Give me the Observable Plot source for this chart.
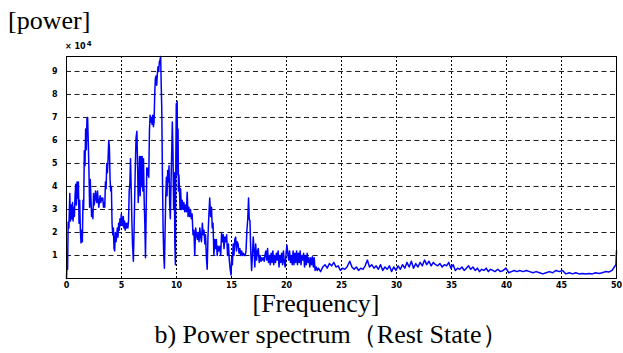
<!DOCTYPE html>
<html><head><meta charset="utf-8">
<script src="https://cdn.jsdelivr.net/npm/d3@7"></script>
<script src="https://cdn.jsdelivr.net/npm/@observablehq/plot@0.6"></script>
<style>
html,body{margin:0;padding:0;background:#fff;}
#wrap{position:relative;width:623px;height:353px;overflow:hidden;background:#fff;}
#wrap svg{position:absolute;left:0;top:0;}
.t{position:absolute;font-family:"Liberation Serif","Times New Roman",serif;font-size:26px;white-space:nowrap;line-height:1;color:#000;}
.note{position:absolute;font-family:"DejaVu Sans",sans-serif;font-size:8px;font-weight:bold;line-height:1;white-space:nowrap;color:#000;}
.note sup{font-size:7px;position:relative;top:-3px;vertical-align:baseline;margin-left:1px;}
</style></head><body><div id="wrap"></div>
<script>
// [frequency (Hz), power (x10^4)]
const band0to5 = [[0,0],[0.04,0.55],[0.1,0.4],[0.15,2.45],[0.22,2.2],[0.3,3.7],[0.36,2.5],[0.42,3.2],[0.48,2.6],[0.55,3.3],[0.6,2.5],[0.66,3.1],[0.72,2.7],[0.78,3.6],[0.84,4.1],[0.9,3.2],[0.96,4.2],[1.02,3.5],[1.08,4.2],[1.14,2.4],[1.2,3.4],[1.26,2.1],[1.32,1.55],[1.38,2.1],[1.44,1.6],[1.5,3.4],[1.56,3.0],[1.62,5.55],[1.68,4.9],[1.74,6.5],[1.8,5.6],[1.86,6.95],[1.92,7.0],[1.98,5.9],[2.04,4.7],[2.1,3.1],[2.16,4.3],[2.22,3.5],[2.28,2.7],[2.34,3.0],[2.4,2.6],[2.46,3.7],[2.52,3.2],[2.58,3.4],[2.64,3.8],[2.7,3.5],[2.76,3.3],[2.82,3.8],[2.88,3.4],[2.94,3.1],[3.0,3.4],[3.06,3.6],[3.12,3.3],[3.18,3.5],[3.24,3.4],[3.3,3.5],[3.36,3.1],[3.42,3.3],[3.48,3.1],[3.54,4.2],[3.6,3.9],[3.66,5.0],[3.72,4.6],[3.78,5.2],[3.84,6.0],[3.9,5.7],[3.96,4.3],[4.02,3.8],[4.08,4.0],[4.14,2.4],[4.2,1.9],[4.26,2.2],[4.32,1.3],[4.38,1.2],[4.44,2.0],[4.5,1.6],[4.56,1.8],[4.62,2.2],[4.68,1.8],[4.74,2.4],[4.8,2.1],[4.86,2.6],[4.92,2.3],[4.98,2.8],[5.04,2.5]];
const band5to10 = [[5.1,2.3],[5.16,2.7],[5.22,2.2],[5.28,2.5],[5.34,2.1],[5.4,2.4],[5.46,2.2],[5.52,2.4],[5.58,2.2],[5.64,2.5],[5.7,3.8],[5.76,4.1],[5.82,5.2],[5.88,3.9],[5.94,2.6],[6.0,1.5],[6.08,0.75],[6.16,2.5],[6.24,4.5],[6.32,6.1],[6.4,6.4],[6.46,5.0],[6.52,3.3],[6.58,4.1],[6.64,5.3],[6.7,3.6],[6.76,5.3],[6.82,4.0],[6.88,5.3],[6.94,3.8],[7.0,5.2],[7.06,3.4],[7.12,2.4],[7.18,0.9],[7.24,2.8],[7.3,4.8],[7.36,4.5],[7.42,4.8],[7.48,4.4],[7.54,6.4],[7.6,7.1],[7.66,6.8],[7.72,7.0],[7.78,6.7],[7.84,7.1],[7.9,6.6],[7.96,6.8],[8.02,8.0],[8.08,8.7],[8.14,8.8],[8.2,8.4],[8.26,8.9],[8.32,9.2],[8.38,9.0],[8.44,9.4],[8.5,9.5],[8.56,9.65],[8.62,8.2],[8.66,7.4],[8.72,4.5],[8.78,2.2],[8.84,1.0],[8.9,0.45],[8.96,2.0],[9.02,3.5],[9.08,4.4],[9.14,3.6],[9.2,4.7],[9.26,4.2],[9.32,4.9],[9.38,3.2],[9.44,2.6],[9.5,4.1],[9.56,5.4],[9.62,6.8],[9.68,5.5],[9.74,3.0],[9.8,4.6],[9.85,1.5],[9.9,0.6],[9.94,5.2],[9.98,7.6],[10.02,4.5],[10.06,7.7],[10.1,5.0],[10.14,6.5]];
const band10to15 = [[10.18,3.8],[10.22,4.5],[10.27,3.9],[10.32,3.0],[10.37,3.9],[10.45,3.0],[10.52,3.4],[10.6,3.0],[10.67,3.3],[10.75,2.9],[10.82,3.2],[10.9,2.9],[10.97,3.75],[11.05,2.7],[11.12,3.1],[11.2,2.7],[11.27,3.0],[11.35,2.6],[11.42,2.8],[11.5,1.9],[11.58,2.1],[11.66,1.0],[11.74,2.2],[11.82,1.9],[11.9,1.7],[11.97,2.0],[12.05,1.6],[12.12,2.2],[12.2,1.8],[12.27,1.6],[12.35,2.4],[12.42,1.9],[12.5,2.1],[12.58,1.5],[12.64,1.9],[12.72,0.9],[12.79,0.4],[12.86,1.8],[12.94,2.7],[13.02,3.5],[13.1,2.7],[13.18,3.1],[13.25,2.2],[13.32,2.4],[13.4,1.0],[13.48,1.7],[13.55,1.3],[13.62,1.7],[13.7,1.0],[13.78,1.4],[13.86,1.2],[13.94,1.4],[14.02,1.0],[14.1,2.0],[14.18,1.6],[14.25,1.9],[14.32,1.3],[14.4,1.8],[14.48,1.6],[14.56,1.9],[14.64,1.0],[14.72,1.5],[14.8,0.8],[14.88,0.4],[14.96,0.15],[15.02,0.9]];
const band15to23 = [[15.08,0.6],[15.15,1.5],[15.22,1.0],[15.3,1.7],[15.38,1.8],[15.45,1.2],[15.52,1.6],[15.6,1.5],[15.68,1.1],[15.76,1.3],[15.84,1.0],[15.92,1.2],[16.0,1.0],[16.08,1.1],[16.16,1.0],[16.24,1.0],[16.32,1.2],[16.4,2.1],[16.48,2.6],[16.55,3.5],[16.61,2.6],[16.68,2.5],[16.75,1.2],[16.83,0.35],[16.9,1.0],[16.98,1.8],[17.05,1.2],[17.12,0.5],[17.2,1.5],[17.28,0.8],[17.36,1.2],[17.44,1.3],[17.52,0.7],[17.6,1.0],[17.68,0.75],[17.76,0.9],[17.84,0.8],[17.92,0.9],[17.98,0.75],[18.04,1.0],[18.12,1.2],[18.2,0.8],[18.28,1.3],[18.36,0.7],[18.44,1.0],[18.52,0.6],[18.6,1.1],[18.68,0.7],[18.76,1.2],[18.84,0.6],[18.92,1.0],[19.0,0.7],[19.08,1.1],[19.16,0.8],[19.24,1.2],[19.32,0.5],[19.4,1.0],[19.48,0.7],[19.56,1.1],[19.64,0.6],[19.72,1.2],[19.8,0.7],[19.88,0.5],[19.96,1.1],[20.04,1.45],[20.12,1.1],[20.2,0.8],[20.28,1.2],[20.36,0.7],[20.44,1.0],[20.52,0.6],[20.6,1.2],[20.68,0.6],[20.76,1.1],[20.84,0.7],[20.92,1.2],[21.0,0.6],[21.08,1.1],[21.16,0.7],[21.24,1.2],[21.32,0.6],[21.4,1.0],[21.48,0.8],[21.56,1.1],[21.64,0.5],[21.72,1.0],[21.8,0.6],[21.88,1.1],[21.96,0.7],[22.04,0.9],[22.12,0.5],[22.2,0.9],[22.28,0.6],[22.36,0.95],[22.44,0.5],[22.52,0.9],[22.6,0.35],[22.7,0.5],[22.8,0.35],[22.9,0.45]];
const band23to50 = [[23.1,0.3],[23.3,0.5],[23.5,0.6],[23.7,0.45],[23.9,0.65],[24.1,0.55],[24.3,0.7],[24.5,0.5],[24.7,0.55],[24.9,0.35],[25.1,0.45],[25.3,0.4],[25.5,0.5],[25.75,0.75],[25.95,0.5],[26.15,0.4],[26.35,0.5],[26.55,0.35],[26.75,0.45],[26.95,0.4],[27.15,0.55],[27.35,0.8],[27.55,0.5],[27.75,0.6],[27.95,0.45],[28.15,0.55],[28.35,0.4],[28.55,0.6],[28.75,0.35],[28.95,0.5],[29.15,0.4],[29.35,0.55],[29.55,0.3],[29.75,0.5],[29.95,0.35],[30.15,0.55],[30.35,0.4],[30.55,0.6],[30.75,0.45],[30.95,0.7],[31.15,0.5],[31.35,0.75],[31.55,0.45],[31.75,0.65],[31.95,0.5],[32.15,0.7],[32.35,0.55],[32.55,0.8],[32.75,0.6],[32.95,0.75],[33.15,0.55],[33.35,0.7],[33.55,0.6],[33.75,0.55],[33.95,0.65],[34.15,0.5],[34.35,0.6],[34.55,0.55],[34.75,0.7],[34.95,0.45],[35.15,0.6],[35.35,0.35],[35.55,0.45],[35.75,0.4],[35.95,0.5],[36.15,0.35],[36.35,0.45],[36.55,0.55],[36.75,0.4],[36.95,0.5],[37.15,0.35],[37.35,0.45],[37.55,0.3],[37.75,0.4],[37.95,0.35],[38.15,0.45],[38.35,0.3],[38.55,0.4],[38.75,0.35],[38.95,0.3],[39.2,0.4],[39.45,0.3],[39.7,0.35],[39.95,0.45],[40.2,0.25],[40.45,0.3],[40.7,0.35],[40.95,0.3],[41.2,0.35],[41.5,0.3],[41.8,0.35],[42.1,0.3],[42.4,0.25],[42.7,0.3],[43.0,0.25],[43.3,0.2],[43.6,0.25],[43.9,0.3],[44.2,0.25],[44.5,0.35],[44.8,0.3],[45.1,0.35],[45.4,0.2],[45.7,0.25],[46.0,0.2],[46.3,0.25],[46.6,0.2],[46.9,0.22],[47.2,0.2],[47.5,0.22],[47.8,0.2],[48.1,0.25],[48.4,0.22],[48.7,0.25],[49.0,0.3],[49.3,0.28],[49.6,0.35],[49.8,0.5],[49.95,0.6],[50.0,1.2]];

const xTicks = [0,5,10,15,20,25,30,35,40,45,50];
const yTicks = [1,2,3,4,5,6,7,8,9];
const yTitle = "[power]";
const xTitle = "[Frequency]";
const caption = "b) Power spectrum（Rest State）";
const scaleBase = "× 10";
const scaleExp = "4";

const spectrum = [...band0to5, ...band5to10, ...band10to15, ...band15to23, ...band23to50]
  .map(([f, p]) => ({f, p}));

const tickFont = {fontFamily: "DejaVu Sans, sans-serif", fontSize: 8, fontWeight: "bold"};

const chart = Plot.plot({
  width: 623, height: 353,
  marginLeft: 66, marginRight: 7, marginTop: 56, marginBottom: 75,
  x: {domain: [0, 50], label: null},
  y: {domain: [0, 9.65], label: null},
  style: {background: "transparent", color: "#000"},
  marks: [
    Plot.gridX(xTicks.slice(1, -1), {stroke: "#000", strokeOpacity: 1, strokeWidth: 1, strokeDasharray: "2,2"}),
    Plot.gridY(yTicks, {stroke: "#000", strokeOpacity: 0.9, strokeWidth: 1, strokeDasharray: "5,3.5"}),
    Plot.line(spectrum, {x: "f", y: "p", stroke: "#0000ff", strokeWidth: 1.5}),
    Plot.frame({stroke: "#000", strokeWidth: 1}),
    Plot.axisX(xTicks, {tickSize: 0, tickPadding: 4, ...tickFont}),
    Plot.axisY(yTicks, {tickSize: 0, tickPadding: 9, ...tickFont})
  ]
});

const wrap = document.getElementById("wrap");
wrap.appendChild(chart);

function addText(cls, txt, css) {
  const d = document.createElement("div");
  d.className = cls;
  d.textContent = txt;
  Object.assign(d.style, css);
  wrap.appendChild(d);
  return d;
}
addText("t", yTitle, {left: "8px", top: "8px"});
addText("t", xTitle, {left: "316px", top: "291px", transform: "translateX(-50%)"});
addText("t", caption, {left: "331px", top: "322px", transform: "translateX(-50%)"});
const note = addText("note", scaleBase, {left: "65px", top: "43px"});
const sup = document.createElement("sup");
sup.textContent = scaleExp;
note.appendChild(sup);
</script>
</body></html>
